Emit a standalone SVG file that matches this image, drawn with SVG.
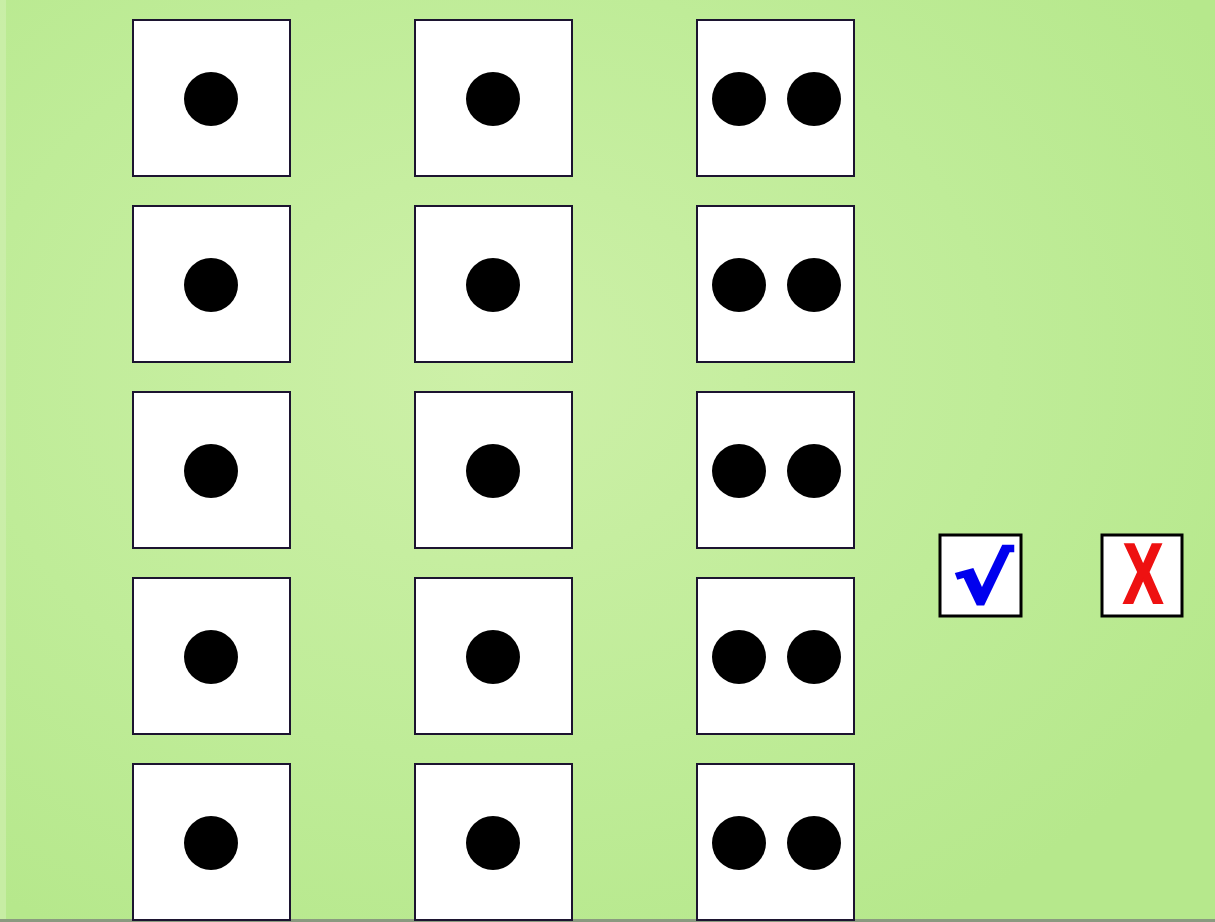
<svg xmlns="http://www.w3.org/2000/svg" width="1215" height="922" viewBox="0 0 1215 922">
<defs>
<radialGradient id="bg" cx="0.4" cy="0.4" r="0.7">
<stop offset="0" stop-color="#cdf0a8"/>
<stop offset="0.6" stop-color="#bfec98"/>
<stop offset="1" stop-color="#b6e88c"/>
</radialGradient>
<style>
.card{fill:#ffffff;stroke:#1c1430;stroke-width:2}
.dot{fill:#000}
.btn{fill:#ffffff;stroke:#000;stroke-width:3}
</style>
</defs>
<rect x="0" y="0" width="1215" height="922" fill="url(#bg)"/>
<rect x="0" y="0" width="6" height="922" fill="#d2f0b4" opacity="0.6"/>
<rect x="0" y="919" width="1215" height="3" fill="#8a9a80"/>
<g id="c1r1"><rect class="card" x="133" y="20" width="157" height="156"/><circle class="dot" cx="211" cy="99" r="27"/></g>
<g id="c1r2"><rect class="card" x="133" y="206" width="157" height="156"/><circle class="dot" cx="211" cy="285" r="27"/></g>
<g id="c1r3"><rect class="card" x="133" y="392" width="157" height="156"/><circle class="dot" cx="211" cy="471" r="27"/></g>
<g id="c1r4"><rect class="card" x="133" y="578" width="157" height="156"/><circle class="dot" cx="211" cy="657" r="27"/></g>
<g id="c1r5"><rect class="card" x="133" y="764" width="157" height="156"/><circle class="dot" cx="211" cy="843" r="27"/></g>
<g id="c2r1"><rect class="card" x="415" y="20" width="157" height="156"/><circle class="dot" cx="493" cy="99" r="27"/></g>
<g id="c2r2"><rect class="card" x="415" y="206" width="157" height="156"/><circle class="dot" cx="493" cy="285" r="27"/></g>
<g id="c2r3"><rect class="card" x="415" y="392" width="157" height="156"/><circle class="dot" cx="493" cy="471" r="27"/></g>
<g id="c2r4"><rect class="card" x="415" y="578" width="157" height="156"/><circle class="dot" cx="493" cy="657" r="27"/></g>
<g id="c2r5"><rect class="card" x="415" y="764" width="157" height="156"/><circle class="dot" cx="493" cy="843" r="27"/></g>
<g id="c3r1"><rect class="card" x="697" y="20" width="157" height="156"/><circle class="dot" cx="739" cy="99" r="27"/><circle class="dot" cx="814" cy="99" r="27"/></g>
<g id="c3r2"><rect class="card" x="697" y="206" width="157" height="156"/><circle class="dot" cx="739" cy="285" r="27"/><circle class="dot" cx="814" cy="285" r="27"/></g>
<g id="c3r3"><rect class="card" x="697" y="392" width="157" height="156"/><circle class="dot" cx="739" cy="471" r="27"/><circle class="dot" cx="814" cy="471" r="27"/></g>
<g id="c3r4"><rect class="card" x="697" y="578" width="157" height="156"/><circle class="dot" cx="739" cy="657" r="27"/><circle class="dot" cx="814" cy="657" r="27"/></g>
<g id="c3r5"><rect class="card" x="697" y="764" width="157" height="156"/><circle class="dot" cx="739" cy="843" r="27"/><circle class="dot" cx="814" cy="843" r="27"/></g>
<g id="check"><rect class="btn" x="940" y="535" width="81" height="81"/>
<text transform="translate(983,603) scale(1.3,1)" x="0" y="0" font-family="DejaVu Sans, sans-serif" font-weight="bold" font-size="68" fill="#0000ee" stroke="#0000ee" stroke-width="2.5" text-anchor="middle" font-style="italic">√</text></g>
<g id="cross"><rect class="btn" x="1102" y="535" width="80" height="81"/>
<text transform="translate(1143,603) scale(0.7,1)" x="0" y="0" font-family="Liberation Sans, sans-serif" font-weight="bold" font-size="85" fill="#ee1111" stroke="#ee1111" stroke-width="2" text-anchor="middle">X</text></g>
</svg>
